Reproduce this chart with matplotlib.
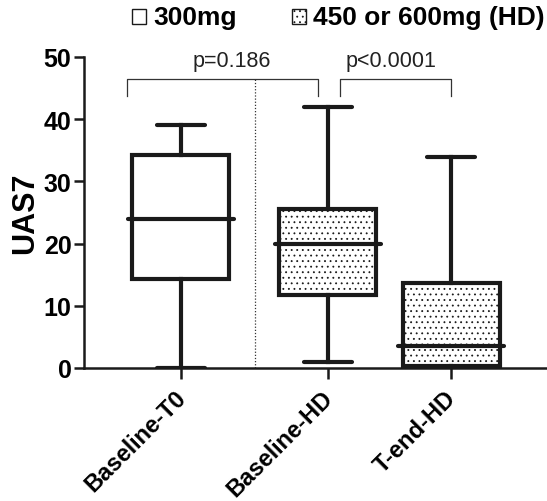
import matplotlib
matplotlib.use("Agg")
import matplotlib.pyplot as plt
import matplotlib.transforms as mtransforms
from matplotlib.patches import Rectangle

plt.rcParams['font.family'] = ['Liberation Sans', 'DejaVu Sans']
plt.rcParams['hatch.linewidth'] = 0.6

# box statistics read from the UAS7 groups
groups = ["Baseline-T0", "Baseline-HD", "T-end-HD"]
whislo = [0.0, 1.0, 0.0]
q1 = [14.3, 11.8, 0.3]
med = [24.0, 20.0, 3.5]
q3 = [34.2, 25.5, 13.7]
whishi = [39.0, 42.0, 34.0]
high_dose = [False, True, True]
pvalues = ["p=0.186", "p<0.0001"]

positions = [0, 1, 1.837]
box_w = 0.66

fig = plt.figure(figsize=(5.47, 5.02), dpi=100)
ax = fig.add_axes([84/547, 1-369/502, 1-84/547, (369-58)/502])

stats = []
for i, g in enumerate(groups):
    stats.append(dict(label=g, whislo=whislo[i], q1=q1[i], med=med[i],
                      q3=q3[i], whishi=whishi[i], fliers=[]))

bp = ax.bxp(stats, positions=positions, widths=box_w, patch_artist=True,
            showfliers=False,
            boxprops=dict(linewidth=3, edgecolor='#1a1a1a', facecolor='white'),
            whiskerprops=dict(linewidth=3, color='#1a1a1a'),
            capprops=dict(linewidth=3, color='#1a1a1a', solid_capstyle='round'),
            medianprops=dict(linewidth=3, color='#1a1a1a', solid_capstyle='round'),
            capwidths=box_w/2)
for box, hd in zip(bp['boxes'], high_dose):
    if hd:
        box.set_hatch('...')
for m in bp['medians']:
    x = m.get_xdata()
    m.set_xdata([x[0]-0.03, x[1]+0.03])

ax.set_xlim(-(181-84)/147, 1.837+(547-451)/147)
ax.set_ylim(0, 50)
ax.set_yticks([0, 10, 20, 30, 40, 50])
ax.set_xticks(positions)
ax.tick_params(axis='y', labelsize=18, width=1.8, length=7, pad=2, color='#1a1a1a')
ax.tick_params(axis='x', width=1.8, length=8, pad=4, color='#1a1a1a')
ax.set_xticklabels(groups, rotation=45, ha='right', rotation_mode='anchor',
                   fontsize=17, fontweight='bold')
# nudge rotated labels so they hang just left of their ticks
shift = mtransforms.ScaledTranslation(-7/100, -1/100, fig.dpi_scale_trans)
for lab in ax.get_xticklabels():
    lab.set_transform(lab.get_transform() + shift)
for lab in ax.get_yticklabels():
    lab.set_fontweight('bold')
for s in ['top', 'right']:
    ax.spines[s].set_visible(False)
for s in ['left', 'bottom']:
    ax.spines[s].set_linewidth(1.8)
    ax.spines[s].set_color('#1a1a1a')

ax.set_ylabel("UAS7", fontsize=22, fontweight='bold')
ax.yaxis.set_label_coords(-0.095, 0.5)

# dotted separator between dose groups
ax.plot([0.503, 0.503], [0, 46.5], color='#333333', lw=0.9, ls=(0, (1, 1.5)))

# significance brackets
def bracket(x0, x1, txt, tx):
    ax.plot([x0, x0, x1, x1], [43.7, 46.5, 46.5, 43.7], color='#333333',
            lw=0.9, clip_on=False)
    ax.text(tx, 49.4, txt, ha='center', va='center', fontsize=15.5,
            color='#222222', clip_on=False)

bracket(-0.367, 0.932, pvalues[0], 0.347)
bracket(1.082, 1.837, pvalues[1], 1.43)

# legend in figure pixels
fig.patches.append(Rectangle((132/547, 1-25/502), 14/547, 15/502,
                             transform=fig.transFigure, facecolor='white',
                             edgecolor='#1a1a1a', lw=1.0))
fig.patches.append(Rectangle((292/547, 1-25/502), 14/547, 15/502,
                             transform=fig.transFigure, facecolor='white',
                             edgecolor='#1a1a1a', lw=1.0, hatch='...'))
fig.text(153/547, 1-18/502, "300mg", fontsize=19, fontweight='bold',
         va='center', ha='left')
fig.text(313/547, 1-18/502, "450 or 600mg (HD)", fontsize=19,
         fontweight='bold', va='center', ha='left')

fig.savefig("out.png", dpi=100)
